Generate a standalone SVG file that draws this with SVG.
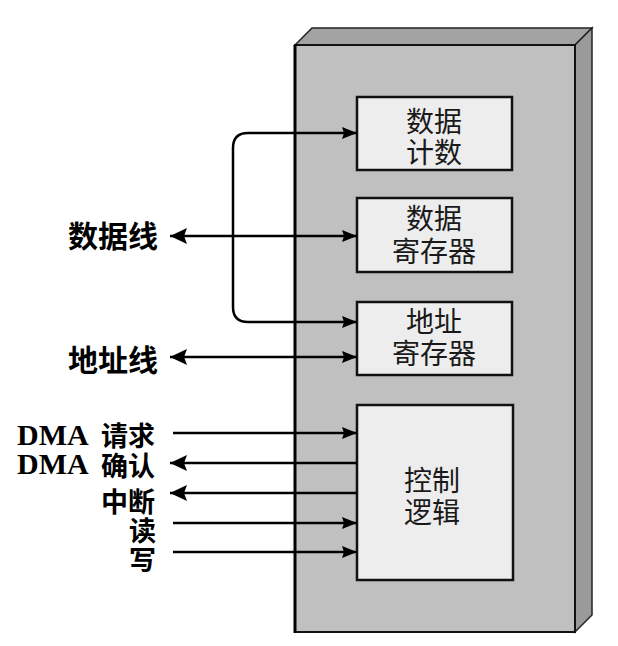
<svg xmlns="http://www.w3.org/2000/svg" width="618" height="646" viewBox="0 0 618 646">
<defs>
<style>
.lbl{font-family:"Noto Sans CJK SC","Noto Sans",sans-serif;font-weight:bold;font-size:30px;fill:#000}
.lbl2{font-family:"Noto Sans CJK SC","Noto Sans",sans-serif;font-weight:bold;font-size:27px;fill:#000}
.dma{font-family:"Liberation Serif",serif;font-weight:bold;font-size:30px;fill:#000}
.in{font-family:"Noto Sans CJK SC","Noto Sans",sans-serif;font-size:28px;fill:#1a1a1a;text-anchor:middle}
.box{fill:#ededed;stroke:#111;stroke-width:2.5}
.ln{fill:none;stroke:#000;stroke-width:2.5}
</style>
<marker id="ah" viewBox="0 0 15 12" refX="15" refY="6" markerWidth="15" markerHeight="12" markerUnits="userSpaceOnUse" orient="auto-start-reverse">
<path d="M0,0 L15,6 L0,12 L2,6 Z" fill="#000"/>
</marker>
<marker id="ab" viewBox="0 0 17 16" refX="17" refY="8" markerWidth="17" markerHeight="16" markerUnits="userSpaceOnUse" orient="auto-start-reverse">
<path d="M0,0 L17,8 L0,16 L3,8 Z" fill="#000"/>
</marker>
</defs>
<rect width="618" height="646" fill="#fff"/>
<g id="chassis">
<polygon points="295,45 312,28 592,28 575,45" fill="#a2a2a2" stroke="#222" stroke-width="1.5"/>
<polygon points="575,45 592,28 592,615 575,632" fill="#9a9a9a" stroke="#222" stroke-width="1.5"/>
<rect x="295" y="45" width="280" height="587" fill="#c0c0c0" stroke="#111" stroke-width="2"/>
<line x1="295" y1="45" x2="295" y2="633" stroke="#000" stroke-width="3"/>
</g>
<g id="n1"><rect class="box" x="357" y="97" width="155" height="73"/><text class="in" x="434" y="132">数据</text><text class="in" x="434" y="163">计数</text></g>
<g id="n2"><rect class="box" x="357" y="198" width="155" height="74"/><text class="in" x="434" y="229">数据</text><text class="in" x="434" y="262">寄存器</text></g>
<g id="n3"><rect class="box" x="357" y="302" width="155" height="73"/><text class="in" x="434" y="332">地址</text><text class="in" x="434" y="364">寄存器</text></g>
<g id="n4"><rect class="box" x="357" y="405" width="156" height="175"/><text class="in" x="432" y="491">控制</text><text class="in" x="432" y="523">逻辑</text></g>
<g id="labels">
<text class="lbl" x="158" y="247" text-anchor="end">数据线</text>
<text class="lbl" x="158" y="371" text-anchor="end">地址线</text>
<text class="dma" x="17" y="445">DMA</text><text class="lbl2" x="101" y="446">请求</text>
<text class="dma" x="17" y="474">DMA</text><text class="lbl2" x="101" y="476">确认</text>
<text class="lbl2" x="101" y="512">中断</text>
<text class="lbl2" x="129" y="541">读</text>
<text class="lbl2" x="129" y="570">写</text>
</g>
<g id="connectors">
<path class="ln" d="M357,133 H248 Q233,133 233,148 V307 Q233,322 248,322 H357" marker-start="url(#ah)" marker-end="url(#ah)"/>
<line class="ln" x1="170" y1="236" x2="357" y2="236" marker-start="url(#ab)" marker-end="url(#ah)"/>
<line class="ln" x1="170" y1="357" x2="357" y2="357" marker-start="url(#ab)" marker-end="url(#ah)"/>
<line class="ln" x1="173" y1="433" x2="357" y2="433" marker-end="url(#ah)"/>
<line class="ln" x1="357" y1="463" x2="170" y2="463" marker-end="url(#ab)"/>
<line class="ln" x1="357" y1="493" x2="170" y2="493" marker-end="url(#ab)"/>
<line class="ln" x1="173" y1="523" x2="357" y2="523" marker-end="url(#ah)"/>
<line class="ln" x1="173" y1="552" x2="357" y2="552" marker-end="url(#ah)"/>
</g>
</svg>
